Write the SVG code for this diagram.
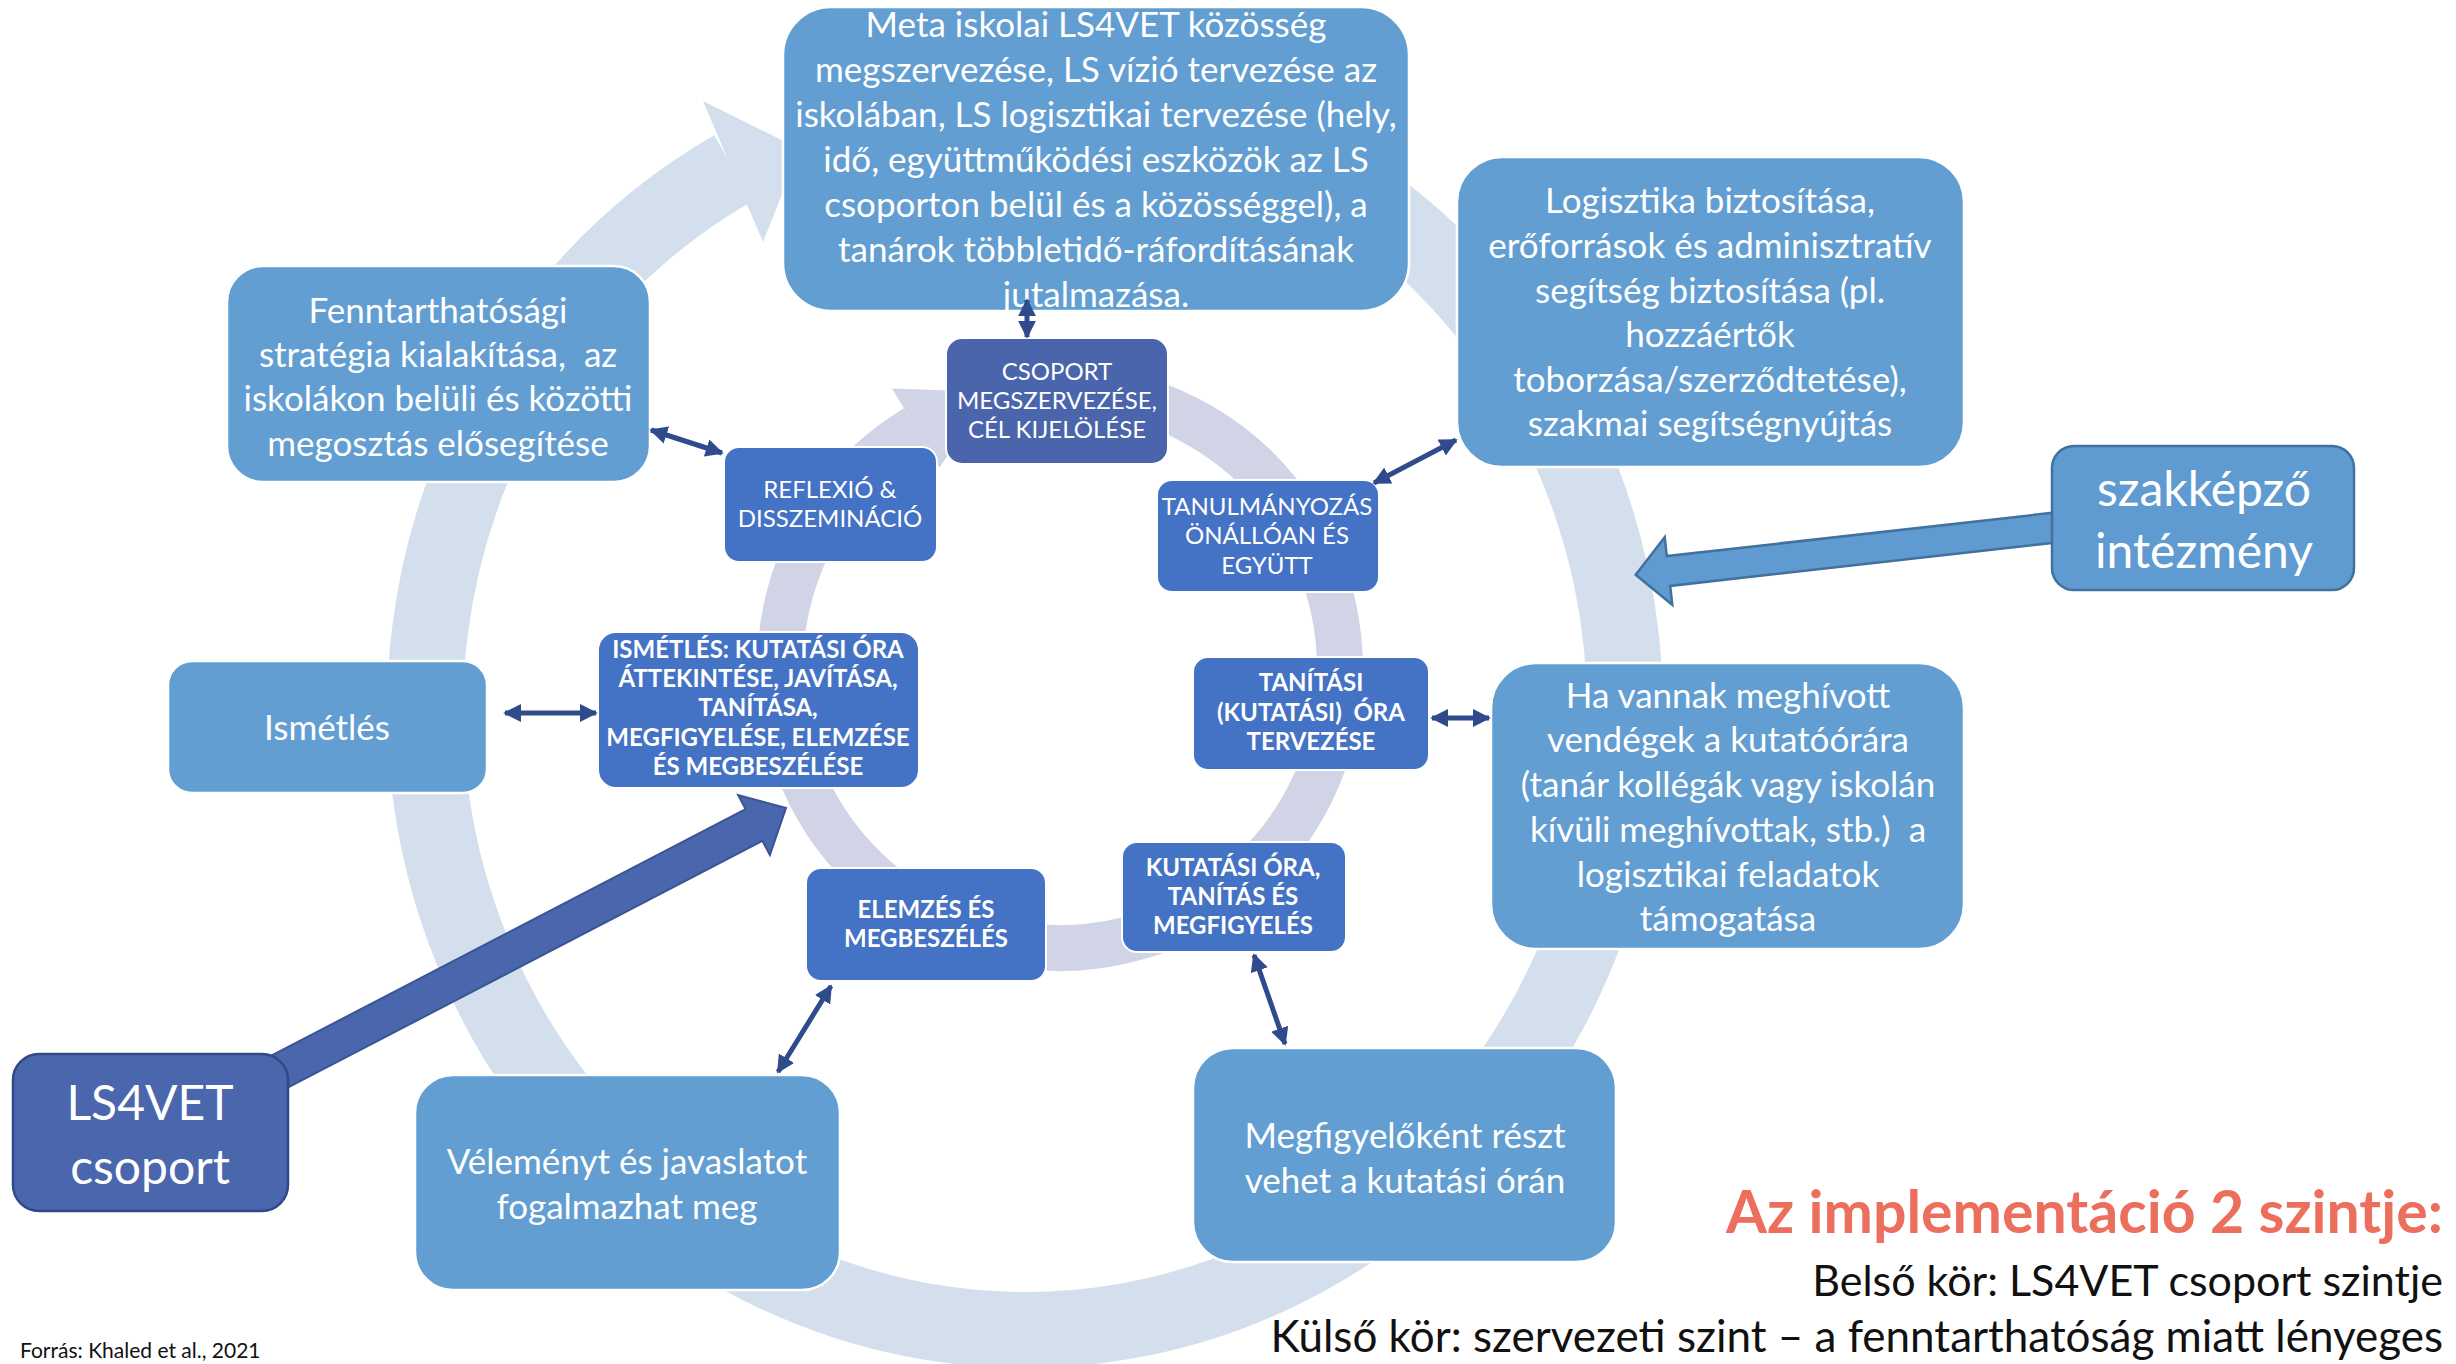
<svg xmlns="http://www.w3.org/2000/svg" width="2456" height="1364" viewBox="0 0 2456 1364">
<defs>
<style>
.big{fill:#629ED2;stroke:#ffffff;stroke-width:2.5}
.inb{fill:#4472C4;stroke:#ffffff;stroke-width:2}
.t{font-family:Lato,"Liberation Sans",sans-serif;fill:#ffffff;text-anchor:middle}
.s35{font-size:35px}
.s48{font-size:48px}
.cap{font-size:24px}
.capb{font-size:24px;font-weight:700}
.conn{stroke:#2F4B8C;stroke-width:5;fill:none;marker-start:url(#ah);marker-end:url(#ah)}
.blk{font-family:Lato,"Liberation Sans",sans-serif;fill:#111111;text-anchor:end}
</style>
<marker id="ah" viewBox="0 0 10 10" refX="9" refY="5" markerWidth="3.6" markerHeight="3.6" orient="auto-start-reverse">
<path d="M0,0 L10,5 L0,10 z" fill="#2F4B8C"/>
</marker>
</defs>
<rect width="2456" height="1364" fill="#ffffff"/>

<g id="ring-outer">
<path d="M 1129.2 99.4 A 600 620 0 1 1 733.2 168.3" fill="none" stroke="#D4DFEE" stroke-width="76"/>
<polygon points="703,101 800,149 763,242" fill="#D4DFEE"/>
</g>
<g id="ring-inner">
<path d="M 1084.4 389.1 A 280 280 0 1 1 915.8 428.0" fill="none" stroke="#D0D4E6" stroke-width="46"/>
<polygon points="892.1,388.6 992,392 939.5,467.4" fill="#D0D4E6"/>
</g>

<g id="block-arrows">
<polygon points="208.4,1128.9 762.4,840.9 769.9,855.0 786,808 738.1,795.0 745.6,809.1 191.6,1097.1" fill="#4A66AC" stroke="#3A5595" stroke-width="2"/>
<polygon points="2098.0,507.7 1666.8,556.1 1664.7,537.2 1635.7,574.7 1672.3,604.8 1670.2,585.9 2101.7,537.5" fill="#5F9BD0" stroke="#41719C" stroke-width="2.5"/>
</g>

<g id="node-meta">
<rect class="big" x="783" y="7" width="626" height="304" rx="48"/>
<text class="t s35"><tspan x="1096" y="37">Meta iskolai LS4VET közösség</tspan><tspan x="1096" y="82">megszervezése, LS vízió tervezése az</tspan><tspan x="1096" y="127">iskolában, LS logisztikai tervezése (hely,</tspan><tspan x="1096" y="172">idő, együttműködési eszközök az LS</tspan><tspan x="1096" y="217">csoporton belül és a közösséggel), a</tspan><tspan x="1096" y="262">tanárok többletidő-ráfordításának</tspan><tspan x="1096" y="307">jutalmazása.</tspan></text>
</g>
<g id="node-fenntarthatosag">
<rect class="big" x="227" y="266" width="423" height="216" rx="36"/>
<text class="t s35" xml:space="preserve"><tspan x="438" y="323">Fenntarthatósági</tspan><tspan x="438" y="367">stratégia kialakítása,  az</tspan><tspan x="438" y="411">iskolákon belüli és közötti</tspan><tspan x="438" y="456">megosztás elősegítése</tspan></text>
</g>
<g id="node-logisztika">
<rect class="big" x="1457" y="157" width="507" height="310" rx="45"/>
<text class="t s35"><tspan x="1710" y="213">Logisztika biztosítása,</tspan><tspan x="1710" y="258">erőforrások és adminisztratív</tspan><tspan x="1710" y="303">segítség biztosítása (pl.</tspan><tspan x="1710" y="347">hozzáértők</tspan><tspan x="1710" y="392">toborzása/szerződtetése),</tspan><tspan x="1710" y="436">szakmai segítségnyújtás</tspan></text>
</g>
<g id="node-szakkepzo">
<rect x="2052" y="446" width="302" height="144" rx="22" fill="#5F9BD0" stroke="#41719C" stroke-width="2.5"/>
<text class="t s48"><tspan x="2204" y="506">szakképző</tspan><tspan x="2204" y="568">intézmény</tspan></text>
</g>
<g id="node-ismetles">
<rect class="big" x="168" y="661" width="319" height="132" rx="24"/>
<text class="t s35" x="327" y="740">Ismétlés</text>
</g>
<g id="node-ha-vannak">
<rect class="big" x="1491" y="663" width="473" height="286" rx="45"/>
<text class="t s35" xml:space="preserve"><tspan x="1728" y="708">Ha vannak meghívott</tspan><tspan x="1728" y="752">vendégek a kutatóórára</tspan><tspan x="1728" y="797">(tanár kollégák vagy iskolán</tspan><tspan x="1728" y="842">kívüli meghívottak, stb.)  a</tspan><tspan x="1728" y="887">logisztikai feladatok</tspan><tspan x="1728" y="931">támogatása</tspan></text>
</g>
<g id="node-megfigyelokent">
<rect class="big" x="1193" y="1048" width="423" height="214" rx="40"/>
<text class="t s35"><tspan x="1405" y="1148">Megfigyelőként részt</tspan><tspan x="1405" y="1193">vehet a kutatási órán</tspan></text>
</g>
<g id="node-velemenyt">
<rect class="big" x="415" y="1075" width="425" height="215" rx="38"/>
<text class="t s35"><tspan x="627" y="1174">Véleményt és javaslatot</tspan><tspan x="627" y="1219">fogalmazhat meg</tspan></text>
</g>
<g id="node-ls4vet">
<rect x="13" y="1054" width="275" height="157" rx="26" fill="#4A66AC" stroke="#2F4A86" stroke-width="2.5"/>
<text class="t s48"><tspan x="150" y="1120">LS4VET</tspan><tspan x="150" y="1184">csoport</tspan></text>
</g>

<g id="node-csoport">
<rect x="946" y="338" width="222" height="126" rx="16" fill="#4A65AB" stroke="#ffffff" stroke-width="2"/>
<text class="t cap"><tspan x="1057" y="380">CSOPORT</tspan><tspan x="1057" y="409">MEGSZERVEZÉSE,</tspan><tspan x="1057" y="438">CÉL KIJELÖLÉSE</tspan></text>
</g>
<g id="node-reflexio">
<rect class="inb" x="724" y="447" width="213" height="115" rx="15"/>
<text class="t cap"><tspan x="830" y="498">REFLEXIÓ &amp;</tspan><tspan x="830" y="527">DISSZEMINÁCIÓ</tspan></text>
</g>
<g id="node-tanulmanyozas">
<rect class="inb" x="1157" y="480" width="222" height="112" rx="15"/>
<text class="t cap"><tspan x="1267" y="515">TANULMÁNYOZÁS</tspan><tspan x="1267" y="544">ÖNÁLLÓAN ÉS</tspan><tspan x="1267" y="574">EGYÜTT</tspan></text>
</g>
<g id="node-tanitasi">
<rect class="inb" x="1193" y="657" width="236" height="113" rx="15"/>
<text class="t capb" xml:space="preserve"><tspan x="1311" y="691">TANÍTÁSI</tspan><tspan x="1311" y="721">(KUTATÁSI)  ÓRA</tspan><tspan x="1311" y="750">TERVEZÉSE</tspan></text>
</g>
<g id="node-kutatasi-ora">
<rect class="inb" x="1122" y="842" width="224" height="110" rx="15"/>
<text class="t capb"><tspan x="1233" y="876">KUTATÁSI ÓRA,</tspan><tspan x="1233" y="905">TANÍTÁS ÉS</tspan><tspan x="1233" y="934">MEGFIGYELÉS</tspan></text>
</g>
<g id="node-elemzes">
<rect class="inb" x="806" y="868" width="240" height="113" rx="15"/>
<text class="t capb"><tspan x="926" y="918">ELEMZÉS ÉS</tspan><tspan x="926" y="947">MEGBESZÉLÉS</tspan></text>
</g>
<g id="node-ismetles-ora">
<rect class="inb" x="598" y="632" width="321" height="156" rx="18"/>
<text class="t capb"><tspan x="758" y="658">ISMÉTLÉS: KUTATÁSI ÓRA</tspan><tspan x="758" y="687">ÁTTEKINTÉSE, JAVÍTÁSA,</tspan><tspan x="758" y="716">TANÍTÁSA,</tspan><tspan x="758" y="746">MEGFIGYELÉSE, ELEMZÉSE</tspan><tspan x="758" y="775">ÉS MEGBESZÉLÉSE</tspan></text>
</g>

<g id="connectors">
<path class="conn" d="M1027,300 L1027,337"/>
<path class="conn" d="M651,430 L722,453"/>
<path class="conn" d="M1456,440 L1374,483"/>
<path class="conn" d="M505,713 L596,713"/>
<path class="conn" d="M1432,718 L1489,718"/>
<path class="conn" d="M831,986 L778,1072"/>
<path class="conn" d="M1254,955 L1285,1044"/>
</g>

<g id="legend">
<text class="blk" x="2443" y="1233" font-size="59" font-weight="700" style="fill:#EC6E5D">Az implementáció 2 szintje:</text>
<text class="blk" x="2443" y="1296" font-size="43">Belső kör: LS4VET csoport szintje</text>
<text class="blk" x="2443" y="1352" font-size="44">Külső kör: szervezeti szint – a fenntarthatóság miatt lényeges</text>
<text x="20" y="1358" font-family="Lato,'Liberation Sans',sans-serif" font-size="21" fill="#111111">Forrás: Khaled et al., 2021</text>
</g>
</svg>
